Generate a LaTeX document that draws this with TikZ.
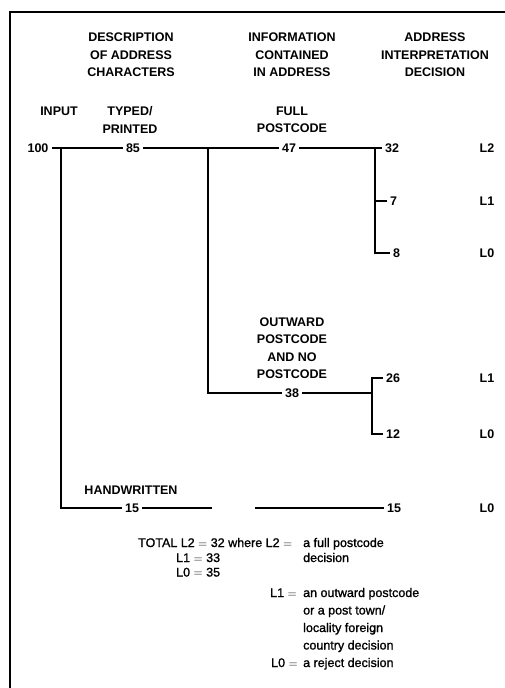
\documentclass[tikz,border=0pt]{standalone}
\usepackage{fontspec}
\setmainfont{Liberation Sans}
\newfontfamily\keyfont{Liberation Sans}[FakeBold=1.2]
\begin{document}
\begin{tikzpicture}[x=1pt,y=-1pt,
	hdr/.style={font=\bfseries\fontsize{12.5}{17.5}\selectfont, align=center, inner sep=0pt},
	num/.style={font=\bfseries\fontsize{12.5}{15}\selectfont, inner sep=3pt},
	lvl/.style={font=\bfseries\fontsize{12.5}{15}\selectfont, inner sep=0pt},
	note/.style={font=\keyfont\fontsize{12.5}{15}\selectfont, anchor=base west, inner sep=0pt},
	link/.style={line width=1.4pt}]
	
	\useasboundingbox (0,0) rectangle (505,688);
	
	% ---- Frame ----
	\draw[line width=1.6pt] (10,688) -- (10,12) -- (505,12);
	
	% ---- Column headings ----
	\node[hdr] (hdrA) at (131,55) {DESCRIPTION\\OF ADDRESS\\CHARACTERS};
	\node[hdr] (hdrB) at (292,55) {INFORMATION\\CONTAINED\\IN ADDRESS};
	\node[hdr] (hdrC) at (435,55) {ADDRESS\\INTERPRETATION\\DECISION};
	
	% ---- Branch labels ----
	\node[hdr] (input) at (59,111) {INPUT};
	\node[hdr] (typed) at (130,120) {TYPED/\\PRINTED};
	\node[hdr] (full) at (292,120) {FULL\\POSTCODE};
	\node[hdr] (outw) at (292,348) {OUTWARD\\POSTCODE\\AND NO\\POSTCODE};
	\node[hdr] (hand) at (131,490) {HANDWRITTEN};
	
	% ---- Counts on the lines ----
	\node[num] (n100) at (38,148) {100};
	\node[num] (n85) at (133,148) {85};
	\node[num] (n47) at (289,148) {47};
	\node[num] (n38) at (292,393) {38};
	\node[num] (nh15) at (132,508) {15};
	
	% ---- Counts at the decisions ----
	\foreach \name/\xx/\yy/\txt in {
		32/382/148/32,
		7/387/201/7,
		8/390/253/8,
		26/383/378/26,
		12/383/434/12,
		hw/384/508/15
	}
	{
		\node[num, anchor=west] (r\name) at (\xx,\yy) {\txt};
	}
	
	% ---- Decision levels ----
	\foreach \name/\yy/\txt in {
		a/148/L2,
		b/201/L1,
		c/253/L0,
		d/378/L1,
		e/434/L0,
		f/508/L0
	}
	{
		\node[lvl] (lv\name) at (487,\yy) {\txt};
	}
	
	% ---- Junctions ----
	\coordinate (j1) at (61,148);
	\coordinate (j2) at (208,148);
	\coordinate (j3) at (375,148);
	\coordinate (c7) at (375,201);
	\coordinate (c8) at (375,253);
	\coordinate (jh) at (61,508);
	\coordinate (jo) at (208,393);
	\coordinate (c26) at (372,378);
	\coordinate (c12) at (372,434);
	\coordinate (jf) at (372,393);
	\coordinate (gapA) at (212,508);
	\coordinate (gapB) at (255,508);
	
	% ---- Lines ----
	\draw[link] (n100.east) -- (j1) -- (n85.west);
	\draw[link] (n85.east) -- (j2) -- (n47.west);
	\draw[link] (n47.east) -- (r32.west);
	\draw[link] (j3) -- (c8) -- (r8.west);
	\draw[link] (c7) -- (r7.west);
	\draw[link] (j2) -- (jo) -- (n38.west);
	\draw[link] (n38.east) -- (jf);
	\draw[link] (r26.west) -- (c26) -- (c12) -- (r12.west);
	\draw[link] (j1) -- (jh) -- (nh15.west);
	\draw[link] (nh15.east) -- (gapA);
	\draw[link] (gapB) -- (rhw.west);
	
	% ---- Totals and key ----
	\foreach \name/\xx/\yy/\txt in {
		t1/138/547/{TOTAL L2 $=$ 32},
		t2/228/547/{where L2 $=$},
		t3/303/547/{a full postcode},
		t4/176/562/{L1 $=$ 33},
		t5/303/562/{decision},
		t6/176/576.5/{L0 $=$ 35},
		k1/270/597/{L1 $=$},
		k2/303/597/{an outward postcode},
		k3/303/614.5/{or a post town/},
		k4/303/632/{locality foreign},
		k5/303/649.5/{country decision},
		k6/271/667/{L0 $=$},
		k7/303/667/{a reject decision}
	}
	{
		\node[note] (\name) at (\xx,\yy) {\txt};
	}
	
\end{tikzpicture}
\end{document}
